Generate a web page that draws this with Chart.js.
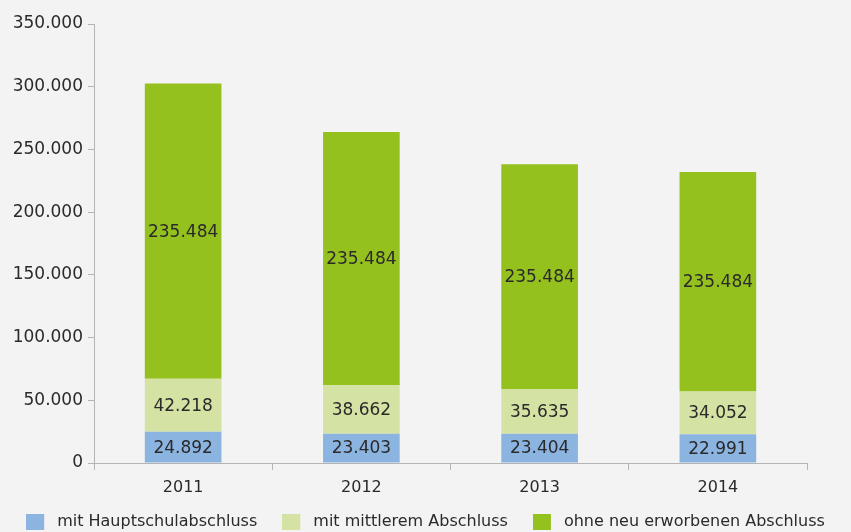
<!DOCTYPE html>
<html lang="de">
<head>
<meta charset="utf-8">
<title>Abschlüsse</title>
<script src="https://cdn.jsdelivr.net/npm/chart.js@4.4.1/dist/chart.umd.min.js"></script>
<style>
    html, body { margin: 0; padding: 0; background: #f3f3f3; }
    #wrap { width: 851px; height: 532px; position: relative; }
</style>
</head>
<body>
<div id="wrap"><canvas id="chart"></canvas></div>
<script>
// Kategorien und Werte
const years = ['2011', '2012', '2013', '2014'];
const hauptschule = [24892, 23403, 23404, 22991];
const mittlerer = [42218, 38662, 35635, 34052];
const ohneAbschluss = [235484, 201800, 179200, 175000];   // Balkenhöhen aus dem Bild geschätzt
const ohneAbschlussLabels = ['235.484', '235.484', '235.484', '235.484'];   // so im Original beschriftet
const seriesNames = ['mit Hauptschulabschluss', 'mit mittlerem Abschluss', 'ohne neu erworbenen Abschluss'];
const yTicks = [0, 50000, 100000, 150000, 200000, 250000, 300000, 350000];

const fontFamily = '"DejaVu Sans", sans-serif';
const colors = ['#8cb4e0', '#d4e3a4', '#95c11f'];

function fmt(v) {
    return String(v).replace(/\B(?=(\d{3})+(?!\d))/g, '.');
}

// Legendenkästchen mit etwas Luft rechts bis zum Text
function swatch(color) {
    const c = document.createElement('canvas');
    c.width = 23;
    c.height = 16;
    const g = c.getContext('2d');
    g.fillStyle = color;
    g.fillRect(0, 0, 18, 16);
    return c;
}

// Zahlen mittig in die Balkenabschnitte schreiben
const segmentLabels = {
    id: 'segmentLabels',
    afterDatasetsDraw(chart) {
        const ctx = chart.ctx;
        ctx.save();
        ctx.font = '17px ' + fontFamily;
        ctx.fillStyle = '#2a2a2a';
        ctx.textAlign = 'center';
        ctx.textBaseline = 'middle';
        chart.data.datasets.forEach((ds, i) => {
            const meta = chart.getDatasetMeta(i);
            meta.data.forEach((bar, j) => {
                const text = ds.labelTexts ? ds.labelTexts[j] : fmt(ds.data[j]);
                ctx.fillText(text, bar.x, (bar.y + bar.base) / 2 + 1);
            });
        });
        ctx.restore();
    }
};

const canvas = document.getElementById('chart').getContext('2d');
const chart = new Chart(canvas, {
    type: 'bar',
    data: {
        labels: years,
        datasets: [{
            label: seriesNames[0],
            data: hauptschule,
            backgroundColor: colors[0],
            pointStyle: swatch(colors[0])
        }, {
            label: seriesNames[1],
            data: mittlerer,
            backgroundColor: colors[1],
            pointStyle: swatch(colors[1])
        }, {
            label: seriesNames[2],
            data: ohneAbschluss,
            labelTexts: ohneAbschlussLabels,
            backgroundColor: colors[2],
            pointStyle: swatch(colors[2])
        }]
    },
    options: {
        responsive: true,
        maintainAspectRatio: false,
        animation: false,
        categoryPercentage: 1,
        barPercentage: 0.43,
        layout: {
            padding: { left: 0, right: 0, top: 24, bottom: -8 }
        },
        plugins: {
            tooltip: { enabled: false },
            legend: {
                position: 'bottom',
                labels: {
                    font: { family: fontFamily, size: 16 },
                    color: '#2a2a2a',
                    usePointStyle: true,
                    pointStyleWidth: 23,
                    boxHeight: 16,
                    padding: 25
                }
            }
        },
        scales: {
            x: {
                stacked: true,
                border: { color: '#b5b5b5', width: 1 },
                grid: {
                    drawOnChartArea: false,
                    color: '#b5b5b5',
                    tickLength: 7
                },
                ticks: {
                    font: { family: fontFamily, size: 16 },
                    color: '#2a2a2a',
                    padding: 8
                },
                afterFit: scale => {
                    // flacher machen, damit die Legende näher rückt; Beschriftung nicht abschneiden
                    scale.height = 26;
                    scale._computeLabelArea = () => undefined;
                }
            },
            y: {
                stacked: true,
                min: 0,
                max: 350000,
                afterBuildTicks: scale => {
                    scale.ticks = yTicks.map(v => ({ value: v }));
                },
                border: { color: '#b5b5b5', width: 1 },
                grid: {
                    drawOnChartArea: false,
                    color: '#b5b5b5',
                    tickLength: 6
                },
                ticks: {
                    font: { family: fontFamily, size: 17 },
                    color: '#2a2a2a',
                    padding: 5,
                    callback: v => fmt(v)
                },
                afterFit: scale => { scale.width = 94; }
            },
            // leere Achse rechts, hält den Rand frei
            yRight: {
                position: 'right',
                display: true,
                min: 0,
                max: 350000,
                grid: { display: false },
                border: { display: false },
                ticks: { display: false },
                afterFit: scale => { scale.width = 44; }
            }
        }
    },
    plugins: [segmentLabels]
});
</script>
</body>
</html>
